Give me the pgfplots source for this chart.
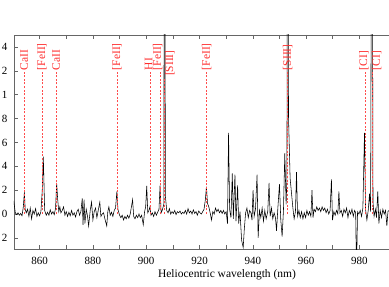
\documentclass[border=0pt]{standalone}
\usepackage{pgfplots}
\pgfplotsset{compat=1.18}
\usepackage{fontspec}
\setmainfont{Liberation Serif}
\definecolor{linered}{RGB}{255,45,45}
\tikzset{
  lab/.style={rotate=90, anchor=west, inner sep=0pt, text=linered, font=\fontsize{11.5}{13}\selectfont},
  dl/.style={linered!85!white, dash pattern=on 2pt off 1.6pt, line width=0.75pt},
}
\begin{document}
\begin{tikzpicture}
\useasboundingbox (-14pt,-38pt) rectangle (375pt,249pt);
\begin{axis}[
  at={(0,0)}, anchor=south west,
  width=375pt, height=214pt, scale only axis,
  xmin=850.4, xmax=991.1, ymin=-0.293, ymax=1.5,
  axis y line*=left,
  axis line style={gray!80!black, line width=0.8pt},
  every tick/.style={gray!80!black, line width=0.6pt},
  major tick length=3.5pt, minor tick length=3.5pt,
  tick align=inside,
  xtick={860,880,...,980}, minor x tick num=1,
  ytick={-0.2,0,0.2,0.4,0.6,0.8,1,1.2,1.4},
  yticklabels={2,0,2,4,6,8,1,2,4},
  /pgf/number format/assume math mode=true,
  tick label style={font=\fontsize{11}{12}\selectfont},
  xticklabel style={yshift=-5pt},
  yticklabel style={xshift=-3pt},
  xlabel={Heliocentric wavelength (nm)},
  xlabel style={font=\fontsize{11.5}{13}\selectfont, at={(axis description cs:0.568,0)}, anchor=base, yshift=-28pt},
  clip mode=individual,
]
\addplot[black, line width=0.55pt] table {
850.3 0.11
850.9 0.01
851.4 -0.005
851.9 0.01
852.4 -0.01
852.9 0.005
853.4 -0.015
853.9 0.06
854.3 0.185
854.6 0.04
855.0 0.01
855.5 0.04
856.0 -0.02
856.5 0.05
857.0 -0.04
857.5 0.03
858.0 0.0
858.5 0.045
859.0 -0.02
859.5 0.01
860.0 -0.015
860.5 0.02
861.0 0.2
861.4 0.48
861.9 0.03
862.5 -0.01
863.0 0.015
863.5 -0.01
864.0 0.035
864.5 0.0
865.0 0.02
865.5 -0.005
866.0 0.05
866.4 0.26
866.8 0.12
867.2 0.02
867.6 0.06
868.0 0.01
868.5 0.03
869.0 0.06
869.5 -0.01
870.0 0.02
870.5 -0.02
871.0 0.015
871.5 -0.015
872.0 0.03
872.5 -0.01
873.0 0.01
873.5 -0.025
874.0 0.02
874.5 0.04
875.0 -0.01
875.5 0.02
876.0 0.13
876.3 -0.09
876.7 0.12
877.0 -0.08
877.5 0.04
878.0 -0.02
878.4 -0.10
879.0 0.03
879.5 0.10
880.0 -0.05
880.5 0.02
881.0 0.05
881.5 -0.03
882.0 0.03
882.6 0.10
883.0 -0.02
883.5 0.0
884.0 0.01
884.5 -0.04
885.2 -0.10
885.6 0.02
886.0 0.06
886.5 -0.01
887.0 0.015
887.5 -0.02
888.0 0.03
888.5 0.05
889.0 0.19
889.4 0.04
890.0 -0.01
890.5 -0.03
891.0 -0.01
891.5 -0.05
892.0 -0.02
892.5 -0.04
893.0 -0.01
893.5 -0.035
894.0 0.0
894.9 0.12
895.3 -0.02
895.8 -0.04
896.3 -0.01
896.8 -0.03
897.3 0.0
897.8 -0.03
898.3 -0.01
898.9 -0.09
899.4 0.02
899.8 0.06
900.2 0.235
900.6 0.01
901.0 0.03
901.4 0.06
901.8 -0.01
902.3 0.01
902.8 -0.02
903.3 0.02
903.8 -0.01
904.3 0.015
904.8 0.04
905.2 0.24
905.6 0.01
906.0 0.03
906.6 0.08
906.9 4.0
907.2 0.15
907.7 0.03
908.2 0.01
908.7 0.045
909.2 0.0
909.7 0.02
910.2 0.005
910.7 0.03
911.2 -0.005
911.7 0.02
912.2 0.01
912.7 0.025
913.2 0.0
913.7 0.015
914.2 0.005
914.7 0.03
915.2 0.0
915.7 0.045
916.2 0.01
916.7 0.025
917.2 0.0
917.7 0.035
918.2 0.005
918.7 0.02
919.2 -0.01
919.7 0.025
920.2 0.01
920.7 0.0
921.2 0.02
921.7 0.04
922.2 0.12
922.6 0.23
923.0 0.09
923.5 0.06
924.0 0.01
924.5 -0.05
925.0 0.02
925.5 0.0
926.0 0.05
926.5 0.02
927.0 0.04
927.5 0.01
928.0 0.03
928.5 0.005
929.0 0.03
929.5 0.0
930.0 0.02
930.5 -0.08
930.9 0.68
931.3 0.04
931.8 -0.03
932.3 0.34
932.7 -0.04
933.3 0.33
933.7 -0.06
934.3 0.24
934.7 -0.08
935.2 0.02
935.8 -0.22
936.4 -0.28
936.8 -0.13
937.3 0.01
937.8 0.05
938.3 -0.03
938.8 0.03
939.3 0.01
939.7 -0.05
940.1 0.20
940.5 -0.02
941.0 0.04
941.6 0.33
942.0 -0.20
942.5 0.03
943.0 -0.03
943.5 0.05
944.0 -0.06
944.5 0.03
945.0 -0.04
945.6 0.02
946.1 0.26
946.5 -0.02
947.0 0.05
947.5 -0.04
948.0 0.01
948.5 -0.03
948.9 -0.14
949.4 0.05
950.0 0.25
950.5 -0.05
951.0 -0.19
951.5 0.03
952.0 0.51
952.5 0.08
952.8 0.30
953.1 4.0
953.4 0.81
954.0 0.30
954.5 0.18
955.0 0.06
955.5 -0.04
956.0 0.02
956.4 0.35
956.8 -0.02
957.3 0.03
957.8 -0.03
958.3 0.02
958.8 -0.04
959.3 0.01
959.8 -0.03
960.3 0.03
960.8 -0.01
961.3 0.02
961.8 -0.02
962.2 0.20
962.6 -0.03
963.0 0.04
963.5 0.02
964.0 0.06
964.5 0.03
965.0 0.05
965.5 0.02
966.0 0.06
966.5 0.03
967.0 0.05
967.5 0.01
968.0 0.04
968.5 0.0
969.0 0.03
969.5 0.29
969.9 -0.05
970.4 0.02
970.9 -0.01
971.4 0.03
971.9 0.0
972.3 0.19
972.7 0.01
973.2 0.03
973.7 -0.02
974.2 0.04
974.7 0.01
975.2 0.05
975.7 -0.03
976.2 0.03
976.7 0.0
977.2 0.04
977.7 -0.02
978.2 0.03
978.6 0.01
978.9 -0.5
979.3 0.02
979.8 0.0
980.3 0.03
980.8 -0.02
981.3 0.05
981.9 0.68
982.3 0.04
982.8 -0.05
983.3 0.03
983.8 0.17
984.2 0.02
984.7 4.0
985.1 0.10
985.5 -0.02
986.0 0.04
986.4 -0.03
986.9 0.19
987.3 -0.08
987.8 0.03
988.3 -0.03
988.8 0.04
989.3 0.0
989.8 0.03
990.3 -0.10
990.7 0.02
991.1 0.03
991.6 0.0
};
\addplot[dl] coordinates {(854.2,0) (854.2,1.19)};
\addplot[dl] coordinates {(860.9,0) (860.9,1.19)};
\addplot[dl] coordinates {(866.2,0) (866.2,1.19)};
\addplot[dl] coordinates {(889.0,0) (889.0,1.19)};
\addplot[dl] coordinates {(901.5,0) (901.5,1.19)};
\addplot[dl] coordinates {(905.2,0) (905.2,1.19)};
\addplot[dl] coordinates {(906.9,0) (906.9,1.14)};
\addplot[dl] coordinates {(922.7,0) (922.7,1.19)};
\addplot[dl] coordinates {(953.1,0) (953.1,1.19)};
\addplot[dl] coordinates {(982.4,0) (982.4,1.19)};
\addplot[dl] coordinates {(985.0,0) (985.0,1.19)};
\node[lab] at (axis cs:854.2,1.205) {CaII};
\node[lab] at (axis cs:860.9,1.205) {[FeII]};
\node[lab] at (axis cs:866.2,1.205) {CaII};
\node[lab] at (axis cs:889.0,1.205) {[FeII]};
\node[lab] at (axis cs:900.9,1.205) {HI};
\node[lab] at (axis cs:904.3,1.205) {[FeII]};
\node[lab] at (axis cs:908.9,1.155) {[SIII]};
\node[lab] at (axis cs:922.7,1.205) {[FeII]};
\node[lab] at (axis cs:953.1,1.205) {[SIII]};
\node[lab] at (axis cs:981.65,1.205) {[CI]};
\node[lab] at (axis cs:986.5,1.205) {[CI]};
\end{axis}
\end{tikzpicture}
\end{document}
